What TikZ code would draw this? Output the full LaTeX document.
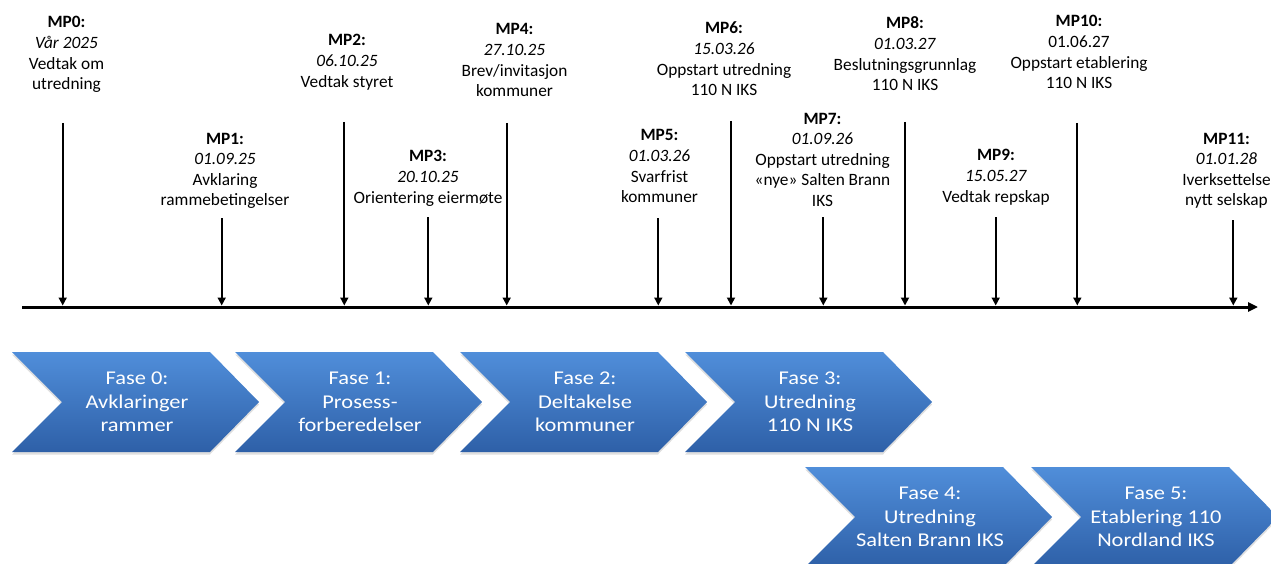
\documentclass[tikz,border=0pt]{standalone}
\usepackage{fontspec}
\setmainfont{Carlito}
\newfontfamily\chevfont{Carlito}[FakeStretch=1.15]
\usetikzlibrary{shadows,arrows.meta}
\definecolor{chevtop}{RGB}{80,142,218}
\definecolor{chevbot}{RGB}{46,96,168}
\tikzset{
  mplabel/.style={align=center,anchor=base,inner sep=0pt,font=\fontsize{17.3}{20.6}\selectfont},
  mparrow/.style={line width=1.8pt,-{Triangle[length=8pt,width=8pt]}},
  axisline/.style={line width=3pt,-{Triangle[length=10pt,width=9pt]}},
  chevbox/.style={top color=chevtop,bottom color=chevbot,draw=none,
    drop shadow={opacity=0.25,shadow xshift=0pt,shadow yshift=-2.5pt}},
  chevtext/.style={align=center,text=white,inner sep=0pt,font=\chevfont\fontsize{19.5}{23.5}\selectfont}
}
\newcommand{\chev}[4]{% left, top, name, text
  \path[chevbox] (#1,#2) -- ++(198,0) -- ++(49,50) -- ++(-49,50) -- ++(-198,0) -- ++(50,-50) -- cycle;
  \node[chevtext] (#3) at (#1+125,#2+50) {#4};
}
\begin{document}
\begin{tikzpicture}[x=1pt,y=-1pt]
\useasboundingbox (0,0) rectangle (1271,564);
\clip (0,0) rectangle (1271,564);

% axis
\coordinate (axs) at (22,307);
\coordinate (axe) at (1258,307);
\draw[axisline] (axs) -- (axe);

% milestone labels (anchor = baseline of the last line)
\node[mplabel] (mp0) at (66.5,89.8) {\textbf{MP0:}\\\textit{Vår 2025}\\Vedtak om\\utredning};
\node[mplabel] (mp1) at (225,205.8) {\textbf{MP1:}\\\textit{01.09.25}\\Avklaring\\rammebetingelser};
\node[mplabel] (mp2) at (347,87.2) {\textbf{MP2:}\\\textit{06.10.25}\\Vedtak styret};
\node[mplabel] (mp3) at (428,203.2) {\textbf{MP3:}\\\textit{20.10.25}\\Orientering eiermøte};
\node[mplabel] (mp4) at (514.5,96.8) {\textbf{MP4:}\\\textit{27.10.25}\\Brev/invitasjon\\kommuner};
\node[mplabel] (mp5) at (659.5,202.8) {\textbf{MP5:}\\\textit{01.03.26}\\Svarfrist\\kommuner};
\node[mplabel] (mp6) at (724,95.8) {\textbf{MP6:}\\\textit{15.03.26}\\Oppstart utredning\\110 N IKS};
\node[mplabel] (mp7) at (822.5,206.4) {\textbf{MP7:}\\\textit{01.09.26}\\Oppstart utredning\\«nye» Salten Brann\\IKS};
\node[mplabel] (mp8) at (905,90.8) {\textbf{MP8:}\\\textit{01.03.27}\\Beslutningsgrunnlag\\110 N IKS};
\node[mplabel] (mp9) at (996,202.2) {\textbf{MP9:}\\\textit{15.05.27}\\Vedtak repskap};
\node[mplabel] (mp10) at (1079,88.8) {\textbf{MP10:}\\01.06.27\\Oppstart etablering\\110 N IKS};
\node[mplabel] (mp11) at (1226.5,205.8) {\textbf{MP11:}\\\textit{01.01.28}\\Iverksettelse\\nytt selskap};

% arrow end points
\foreach \n/\x/\t in {0/62.7/123,1/221.7/218,2/344.3/122,3/428.3/217,4/506.7/123,5/658.3/218,
                      6/731/121,7/823.3/217,8/905/122,9/995.7/217,10/1077.3/123,11/1233.3/220}{
  \coordinate (t\n) at (\x,\t);
  \coordinate (b\n) at (\x,305.5);
}
\foreach \n in {0,...,11}{
  \draw[mparrow] (t\n) -- (b\n);
}

% phases
\chev{12}{352}{f0}{Fase 0:\\Avklaringer\\rammer}
\chev{235}{352}{f1}{Fase 1:\\Prosess-\\forberedelser}
\chev{460}{352}{f2}{Fase 2:\\Deltakelse\\kommuner}
\chev{685}{352}{f3}{Fase 3:\\Utredning\\110 N IKS}
\chev{805}{467}{f4}{Fase 4:\\Utredning\\Salten Brann IKS}
\chev{1031}{467}{f5}{Fase 5:\\Etablering 110\\Nordland IKS}
\end{tikzpicture}
\end{document}
